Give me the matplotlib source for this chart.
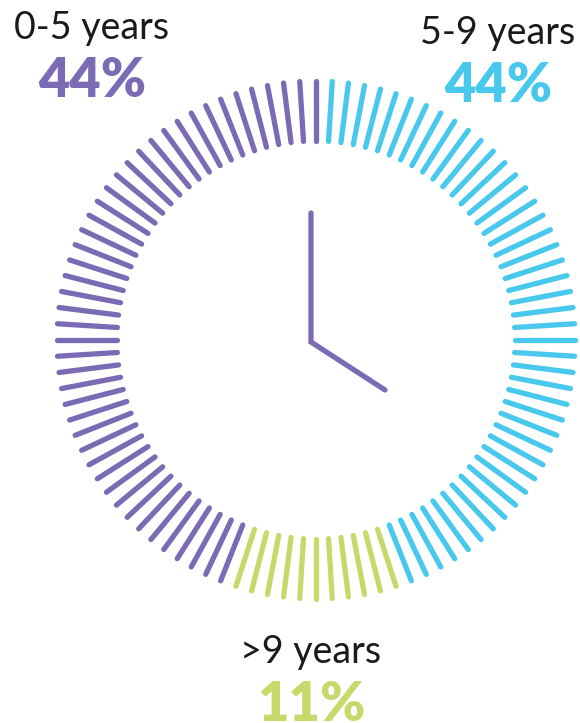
import numpy as np
import matplotlib
matplotlib.use("Agg")
import matplotlib.pyplot as plt

# data
categories = ["5-9 years", ">9 years", "0-5 years"]   # clockwise from 12 o'clock
percents = [44, 11, 44]
colors = ["#47C8EC", "#C5DA6B", "#7B6BB5"]
n_ticks = 100

# layout (pixel coordinates)
W, H = 580, 723
cx, cy = 316, 340
r_in, r_out = 199, 259

fig = plt.figure(figsize=(W / 100, H / 100), dpi=100)
ax = fig.add_axes([0, 0, 1, 1])
ax.set_xlim(0, W)
ax.set_ylim(H, 0)
ax.axis("off")

# tick ring: tick i (1..n) clockwise from top, last tick sits at 12 o'clock
bounds = np.cumsum(percents[:-1])
for i in range(1, n_ticks + 1):
    k = int(np.searchsorted(bounds, i, side="left"))
    col = colors[min(k, len(colors) - 1)]
    ang = 2 * np.pi * i / n_ticks
    sx, sy = np.sin(ang), -np.cos(ang)
    ax.plot([cx + r_in * sx, cx + r_out * sx], [cy + r_in * sy, cy + r_out * sy],
            color=col, lw=3.8, solid_capstyle="round")

# clock hands
ax.plot([311, 311, 385], [213, 342, 390], color=colors[2], lw=3.8,
        solid_capstyle="round", solid_joinstyle="miter")

# labels
font = "Lato"
labels = [(categories[0], percents[0], colors[0], 498, 33),
          (categories[1], percents[1], colors[1], 311, 652),
          (categories[2], percents[2], colors[2], 92, 28)]
for name, pct, col, x, y in labels:
    ax.text(x, y, name, ha="center", va="center", fontsize=27,
            family=font, color="#1a1a1a")
    ax.text(x, y + 53, f"{pct}%", ha="center", va="center", fontsize=39,
            family=font, fontweight="heavy", color=col)

fig.savefig("out.png", dpi=100)
plt.close(fig)
